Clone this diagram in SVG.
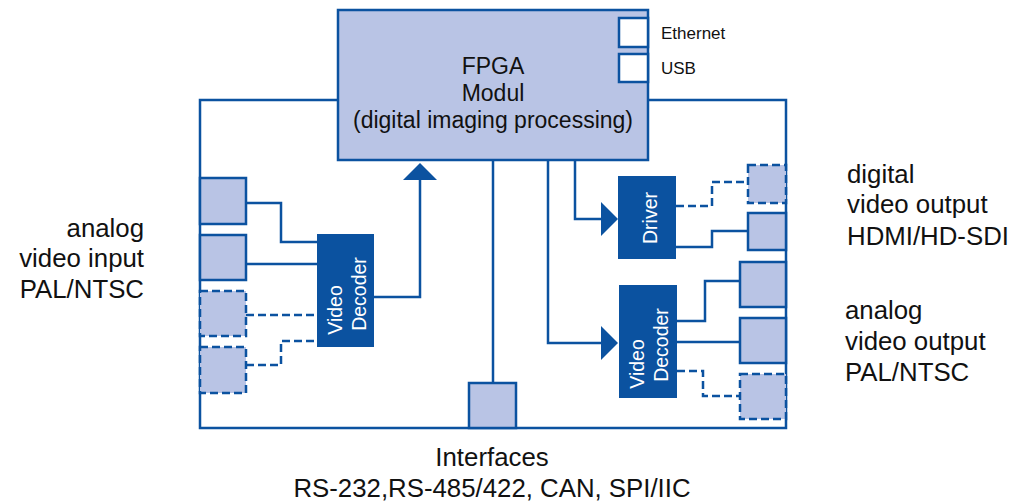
<svg xmlns="http://www.w3.org/2000/svg" width="1012" height="502" viewBox="0 0 1012 502">
<style>
.ln{fill:none;stroke:#0b52a0;stroke-width:2.5}
.dl{fill:none;stroke:#0b52a0;stroke-width:2.5;stroke-dasharray:8 4}
.bx{fill:#b9c4e5;stroke:#0b52a0;stroke-width:2.5}
.db{fill:#b9c4e5;stroke:#0b52a0;stroke-width:2.5;stroke-dasharray:8 4}
.wb{fill:#ffffff;stroke:#0b52a0;stroke-width:2.5}
.ch{fill:#0b52a0}
.t{font-family:"Liberation Sans",Arial,sans-serif;fill:#111}
.lb{font-size:25.8px}
.w{font-family:"Liberation Sans",Arial,sans-serif;fill:#ffffff;font-size:19.5px}
.ar{fill:#0b52a0}
</style>
<g id="connectors">
<path class="ln" d="M338,100 H200 V428 H786 V100 H648"/>
<path class="ln" d="M246,203 H281 V242 H318"/>
<path class="ln" d="M246,264 H318"/>
<path class="dl" d="M246,315 H318"/>
<path class="dl" d="M246,365 H281 V341 H318"/>
<path class="ln" d="M374,297 H420 V178"/>
<polygon class="ar" points="403,180 420,163 437,180"/>
<path class="ln" d="M493,160 V383"/>
<path class="ln" d="M575,160 V219 H603"/>
<polygon class="ar" points="601,202 618,219 601,236"/>
<path class="ln" d="M548,160 V343 H603"/>
<polygon class="ar" points="601,326 618,343 601,360"/>
<path class="dl" d="M676,206 H712 V182 H748"/>
<path class="ln" d="M676,247 H712 V231 H748"/>
<path class="ln" d="M677,321 H705 V281 H740"/>
<path class="ln" d="M677,342 H740"/>
<path class="dl" d="M677,371 H703 V396 H740"/>
</g>
<g id="fpga">
<rect class="bx" x="338" y="10" width="310" height="150"/>
<text class="t" x="493" y="74" font-size="23" text-anchor="middle">FPGA</text>
<text class="t" x="493" y="101" font-size="23" text-anchor="middle">Modul</text>
<text class="t" x="493" y="128" font-size="23" text-anchor="middle">(digital imaging processing)</text>
</g>
<g id="ethernet">
<rect class="wb" x="619" y="18" width="29" height="29"/>
<text class="t" x="661" y="39" font-size="17">Ethernet</text>
</g>
<g id="usb">
<rect class="wb" x="619" y="54" width="29" height="28"/>
<text class="t" x="661" y="74" font-size="17">USB</text>
</g>
<g id="in1"><rect class="bx" x="200" y="178" width="46" height="46"/></g>
<g id="in2"><rect class="bx" x="200" y="235" width="46" height="45"/></g>
<g id="in3"><rect class="db" x="200" y="291" width="46" height="45"/></g>
<g id="in4"><rect class="db" x="200" y="347" width="46" height="46"/></g>
<g id="decoder-in">
<rect class="ch" x="317" y="234" width="57" height="113"/>
<text class="w" transform="translate(342,310) rotate(-90)" text-anchor="middle">Video</text>
<text class="w" transform="translate(366,294) rotate(-90)" text-anchor="middle">Decoder</text>
</g>
<g id="driver">
<rect class="ch" x="618" y="176" width="58" height="83"/>
<text class="w" transform="translate(657,218) rotate(-90)" text-anchor="middle">Driver</text>
</g>
<g id="decoder-out">
<rect class="ch" x="619" y="285" width="58" height="113"/>
<text class="w" transform="translate(644,364) rotate(-90)" text-anchor="middle">Video</text>
<text class="w" transform="translate(668,345) rotate(-90)" text-anchor="middle">Decoder</text>
</g>
<g id="dout1"><rect class="db" x="748" y="165" width="38" height="38"/></g>
<g id="dout2"><rect class="bx" x="748" y="213" width="38" height="37"/></g>
<g id="aout1"><rect class="bx" x="740" y="262" width="46" height="45"/></g>
<g id="aout2"><rect class="bx" x="740" y="318" width="46" height="45"/></g>
<g id="aout3"><rect class="db" x="740" y="374" width="46" height="45"/></g>
<g id="interfaces">
<rect class="bx" x="469" y="383" width="47" height="45"/>
<text class="t lb" x="492" y="466" text-anchor="middle">Interfaces</text>
<text class="t lb" x="492" y="497" text-anchor="middle">RS-232,RS-485/422, CAN, SPI/IIC</text>
</g>
<g id="label-in">
<text class="t lb" x="144" y="237" text-anchor="end">analog</text>
<text class="t lb" x="144" y="267" text-anchor="end">video input</text>
<text class="t lb" x="144" y="298" text-anchor="end">PAL/NTSC</text>
</g>
<g id="label-dout">
<text class="t lb" x="847" y="183">digital</text>
<text class="t lb" x="847" y="213">video output</text>
<text class="t lb" x="847" y="245">HDMI/HD-SDI</text>
</g>
<g id="label-aout">
<text class="t lb" x="845" y="319">analog</text>
<text class="t lb" x="845" y="350">video output</text>
<text class="t lb" x="845" y="381">PAL/NTSC</text>
</g>
</svg>
